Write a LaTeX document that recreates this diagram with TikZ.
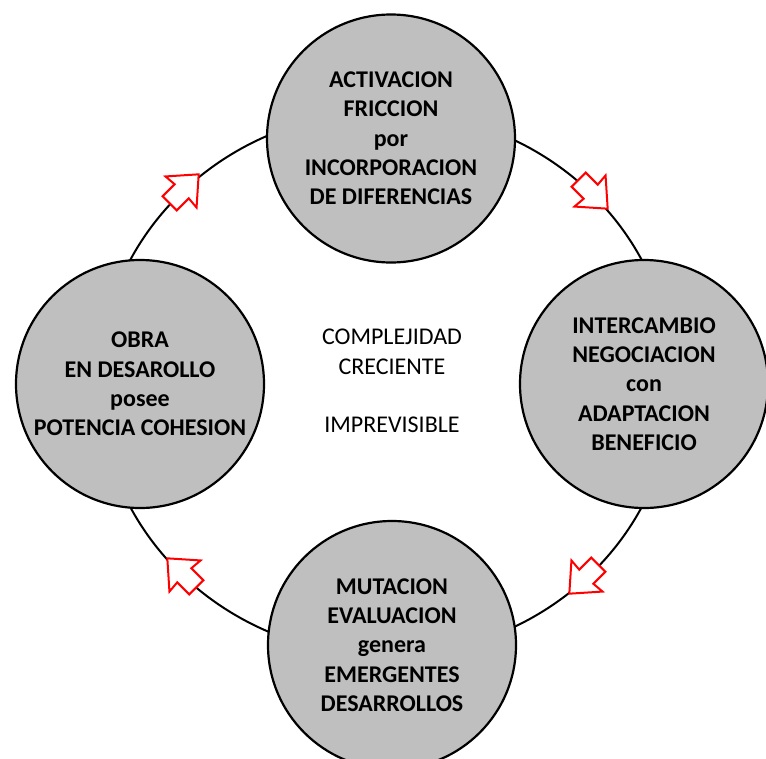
\documentclass[tikz,border=0pt]{standalone}
\usepackage{fontspec}
\setmainfont{Carlito}

\begin{document}
\begin{tikzpicture}[x=1pt,y=-1pt,
   fase/.style={circle,draw=black,line width=2.2pt,fill=black!25,
     minimum size=248pt,inner sep=0pt,align=center,
     font=\fontsize{24}{29.3}\selectfont\bfseries},
   texto/.style={align=center,font=\fontsize{24}{29.3}\selectfont},
   flecha/.style={draw=red,fill=white,line width=2pt,line join=miter}]
   \useasboundingbox (0,0) rectangle (766,758);
   % ciclo
   \draw[line width=2pt] (386,383.5) ellipse [x radius=287pt, y radius=272pt];
   \node[fase] (act) at (391,138.5) {ACTIVACION\\FRICCION\\por\\INCORPORACION\\DE DIFERENCIAS};
   \node[fase] (inter) at (644,384) {INTERCAMBIO\\NEGOCIACION\\con\\ADAPTACION\\BENEFICIO};
   \node[fase] (mut) at (392,645) {MUTACION\\EVALUACION\\genera\\EMERGENTES\\DESARROLLOS};
   \node[fase] (obra) at (140,384) {OBRA\\EN DESAROLLO\\posee\\POTENCIA COHESION};
   \node[texto] (centro) at (392,381) {COMPLEJIDAD\\CRECIENTE\\[29.3pt]IMPREVISIBLE};
   % flechas
   \foreach \px/\py/\ang in {181/192/45, 590/191/-45, 587/576/-135, 185/576/135} {
    \draw[flecha,shift={(\px,\py)},rotate=\ang]
     (25,0) -- (0,22) -- (1,10) -- (-16,10) -- (-16,-10) -- (1,-10) -- (0,-22) -- cycle;
   }
  \end{tikzpicture}
\end{document}
